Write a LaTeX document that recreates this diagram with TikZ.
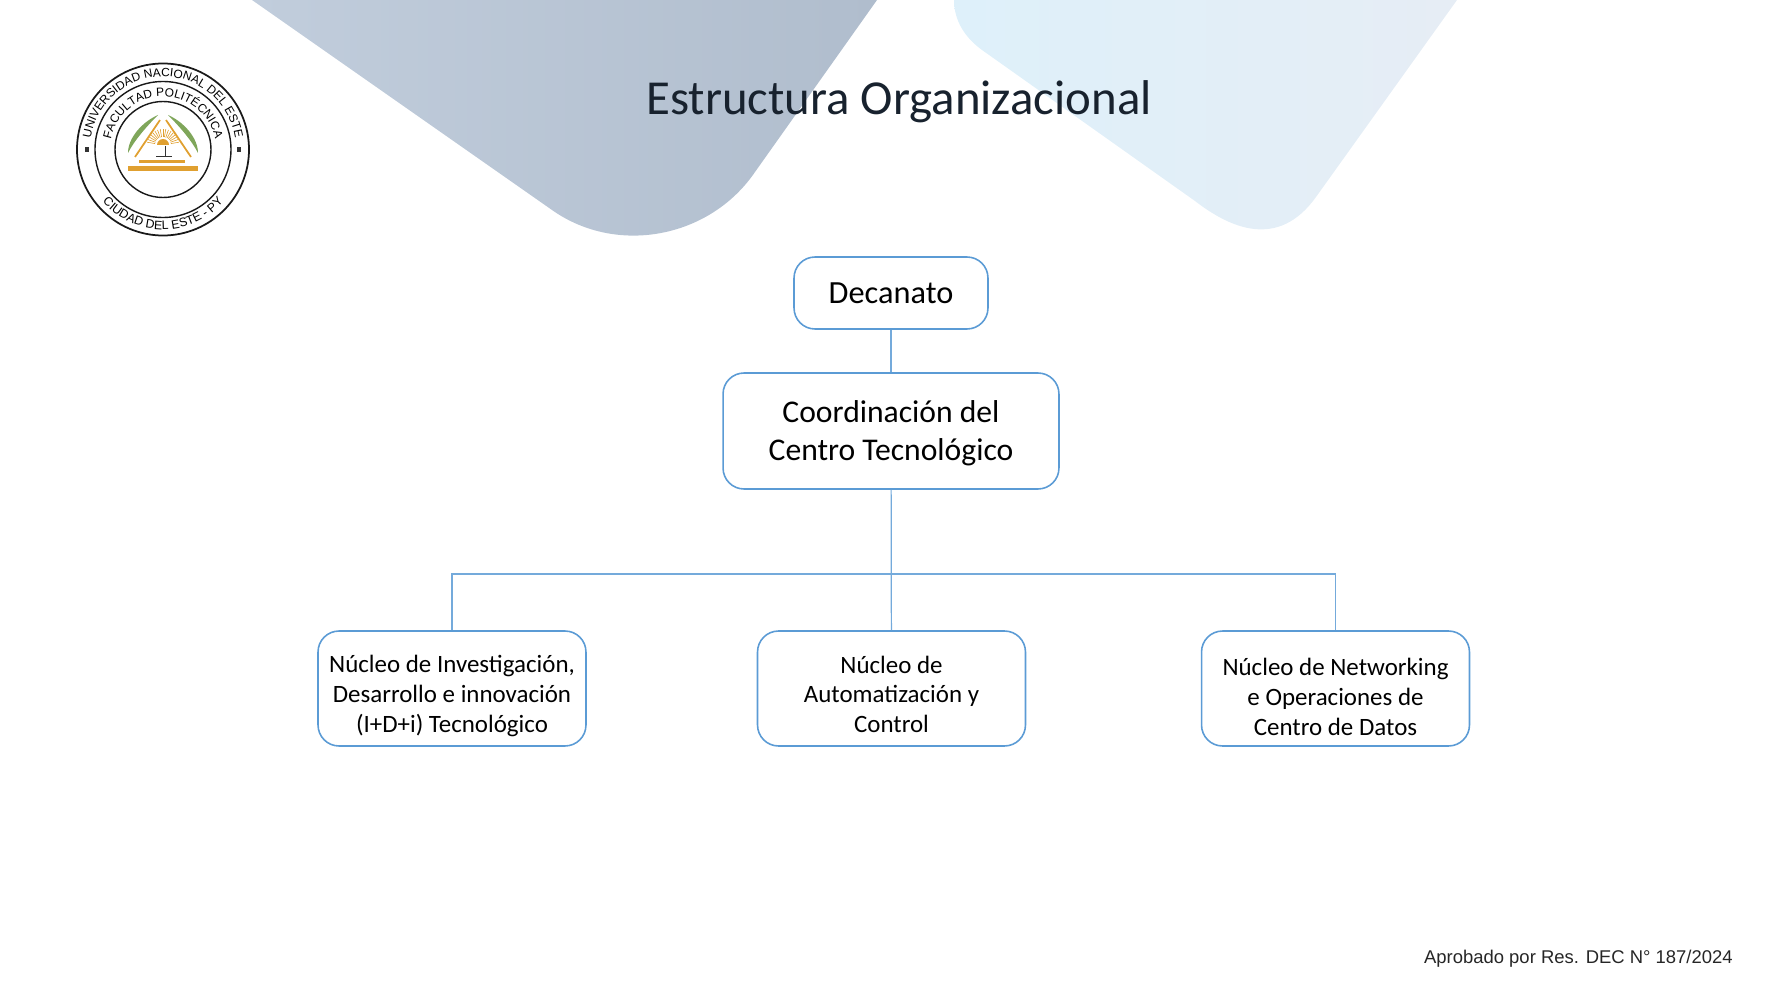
\documentclass[tikz,border=0pt]{standalone}
\usepackage{fontspec}
\setmainfont{Carlito}
\newfontfamily\footfont{Liberation Sans}
\usetikzlibrary{decorations.text}
\definecolor{boxblue}{HTML}{5B9BD5}
\definecolor{titleink}{HTML}{18222E}
\definecolor{sealgreen}{HTML}{7FA65A}
\definecolor{sealgold}{HTML}{E0A030}
\newcommand{\dropline}[1]{\rule{0pt}{#1}}
\begin{document}
\begin{tikzpicture}[
    x=0.02cm, y=-0.02cm,
    orgbox/.style={draw=boxblue, line width=0.9pt, rounded corners=0.42cm, fill=white,
                   align=center, text=black, inner sep=0pt},
    topbox/.style={orgbox, minimum width=3.88cm, minimum height=1.44cm, font=\fontsize{18.4}{22}\selectfont},
    midbox/.style={orgbox, minimum width=6.72cm, minimum height=2.32cm, font=\fontsize{18}{22}\selectfont},
    coreboxx/.style={orgbox, minimum width=5.36cm, minimum height=2.30cm, font=\fontsize{14.2}{17}\selectfont},
    link/.style={draw=boxblue!85, line width=0.7pt},
    ring/.style={draw=black!90, line width=0.8pt},
    sealtext/.style={font=\footfont\fontsize{6.8}{8}\selectfont, text=black!85}
  ]
  \useasboundingbox (0,0) rectangle (1778,1000);

  % Background shapes
  \begin{scope}
    \clip (0,0) rectangle (1778,1000);
    \path[left color={rgb,255:red,193;green,205;blue,220}, right color={rgb,255:red,176;green,189;blue,205}]
      (252,0) -- (552,210) .. controls (617,256) and (710,238) .. (755,172) -- (877,0) -- cycle;
    \path[left color={rgb,255:red,222;green,240;blue,250}, middle color={rgb,255:red,223;green,239;blue,249},
          right color={rgb,255:red,230;green,237;blue,245}]
      (954,0) .. controls (954,15) and (960,34) .. (982,50) -- (1195,201)
      .. controls (1230,228) and (1278,250) .. (1316,197) -- (1457,0) -- cycle;
  \end{scope}

  % Title
  \node[font=\fontsize{27.8}{32}\selectfont, text=titleink] (title) at (899,102) {Estructura Organizacional};

  % Boxes
  \node[topbox] (decanato) at (891,293) {Decanato};
  \node[midbox] (coordinacion) at (891,431) {\dropline{15pt}Coordinación del\\Centro Tecnológico};
  \node[coreboxx] (idi) at (452,688.5) {\dropline{18pt}Núcleo de Investigación,\\Desarrollo e innovación\\(I+D+i) Tecnológico};
  \node[coreboxx] (automatizacion) at (891.5,688.5) {\dropline{16.6pt}Núcleo de\\Automatización y\\Control};
  \node[coreboxx] (networking) at (1335.5,688.5) {\dropline{19.7pt}Núcleo de Networking\\e Operaciones de\\Centro de Datos};

  % Connectors
  \coordinate (bus) at (891,574);
  \draw[link] (decanato) -- (coordinacion);
  \draw[link] (coordinacion) -- (automatizacion);
  \draw[link] (idi.north) |- (bus) -| (networking.north);

  % Footer
  \node[font=\footfont\fontsize{10.5}{13}\selectfont, text=black!85, anchor=east, inner sep=0pt] (aprobado) at (1733,959) {Aprobado por Res. DEC N° 187/2024};

  % Seal rings
  \coordinate (seal) at (163,149.5);
  \draw[ring, line width=1pt] (seal) circle (86);
  \draw[ring] (seal) circle (68);
  \draw[ring] (seal) circle (48);

  % Seal lettering
  \path[sealtext, postaction={decorate}, decoration={text along path, text align=center,
        text={|\footfont\fontsize{6.8}{8}\selectfont|UNIVERSIDAD NACIONAL DEL ESTE}}]
    (seal) ++(-200:73) arc (-200:20:73);
  \path[sealtext, postaction={decorate}, decoration={text along path, text align=center,
        text={|\footfont\fontsize{6.8}{8}\selectfont|FACULTAD POLITÉCNICA}}]
    (seal) ++(-210:53) arc (-210:30:53);
  \path[sealtext, postaction={decorate}, decoration={text along path, text align=center,
        text={|\footfont\fontsize{7}{8}\selectfont|CIUDAD DEL ESTE - PY}}]
    (seal) ++(170:80) arc (170:10:80);
  \fill[black!80] (85,147) rectangle (89,152);
  \fill[black!80] (237,147) rectangle (241,152);

  % Seal emblem
  \fill[sealgreen] (158,115) .. controls (142,122) and (128,138) .. (128,153) .. controls (134,141) and (146,127) .. (158,115) -- cycle;
  \fill[sealgreen] (168,115) .. controls (184,122) and (198,138) .. (198,153) .. controls (192,141) and (180,127) .. (168,115) -- cycle;
  \draw[sealgold, line width=1pt] (160,120) -- (135,157);
  \draw[sealgold, line width=1pt] (166,120) -- (191,157);
  \foreach \a in {10,20,...,170}
    \draw[sealgold, line width=0.35pt] (163,145) ++(-\a:8) -- ++(-\a:8);
  \fill[sealgold] (157,145) arc (-180:0:6) -- cycle;
  \draw[black!80, line width=0.4pt] (165,146) -- (165,156) (156,156) -- (172,156);
  \fill[sealgold] (139,160) rectangle (185,163);
  \fill[sealgold] (128,166) rectangle (198,171);
\end{tikzpicture}
\end{document}
